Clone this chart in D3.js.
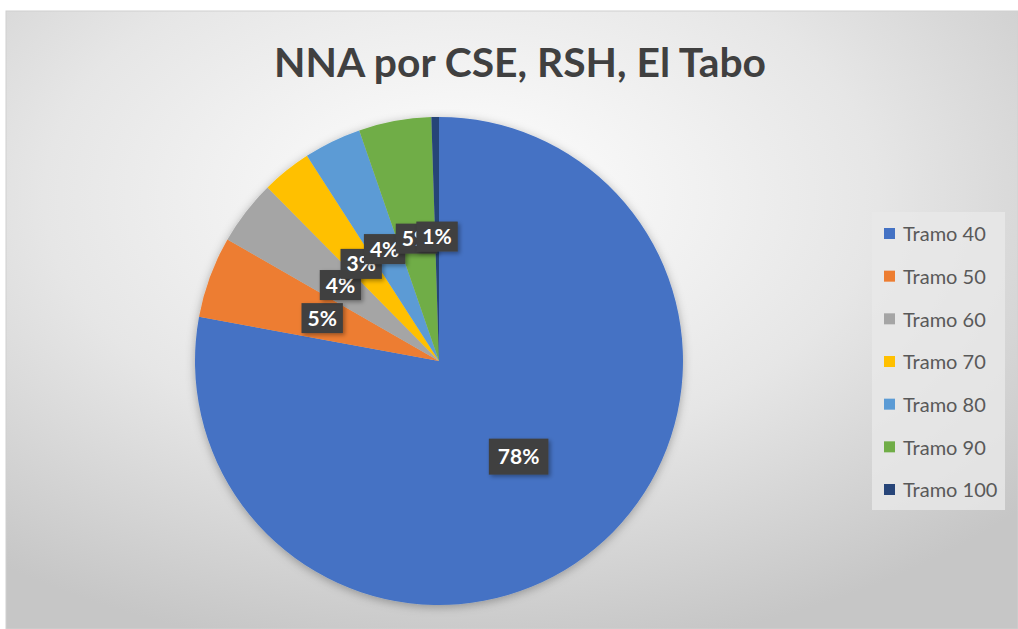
<!DOCTYPE html>
<html>
<head>
<meta charset="utf-8">
<script src="https://cdn.jsdelivr.net/npm/d3@7"></script>
<style>
  body { margin: 0; background: #ffffff; }
  svg { display: block; }
</style>
</head>
<body>
<svg id="chart" width="1018" height="629"></svg>
<script>
// data (shares of NNA by tramo)
var categories = ["Tramo 40", "Tramo 50", "Tramo 60", "Tramo 70", "Tramo 80", "Tramo 90", "Tramo 100"];
var values = [77.9, 5.4, 4.3, 3.3, 3.8, 4.8, 0.5];
var labels = ["78%", "5%", "4%", "3%", "4%", "5%", "1%"];
var colors = ["#4472C4", "#ED7D31", "#A5A5A5", "#FFC000", "#5B9BD5", "#70AD47", "#264478"];

var width = 1018;
var height = 629;

var svg = d3.select("#chart");
var defs = svg.append("defs");

// background gradient of the chart area
var grad = defs.append("radialGradient")
    .attr("id", "bg")
    .attr("cx", "45%").attr("cy", "30%").attr("r", "75%");
grad.append("stop").attr("offset", "0%").attr("stop-color", "#ffffff");
grad.append("stop").attr("offset", "55%").attr("stop-color", "#e6e6e6");
grad.append("stop").attr("offset", "100%").attr("stop-color", "#c6c6c6");

var pieShadow = defs.append("filter").attr("id", "pieShadow")
    .attr("x", "-10%").attr("y", "-10%").attr("width", "120%").attr("height", "120%");
pieShadow.append("feDropShadow")
    .attr("dx", 0).attr("dy", 2).attr("stdDeviation", 5)
    .attr("flood-color", "#000").attr("flood-opacity", 0.3);

var boxShadow = defs.append("filter").attr("id", "boxShadow")
    .attr("x", "-30%").attr("y", "-30%").attr("width", "160%").attr("height", "160%");
boxShadow.append("feDropShadow")
    .attr("dx", 2).attr("dy", 2).attr("stdDeviation", 2)
    .attr("flood-color", "#000").attr("flood-opacity", 0.35);

svg.append("rect")
    .attr("x", 6).attr("y", 11)
    .attr("width", width - 6).attr("height", height - 11)
    .attr("fill", "url(#bg)")
    .attr("stroke", "#d0d0d0").attr("stroke-width", 1);

// title
svg.append("text")
    .attr("x", 520).attr("y", 77)
    .attr("text-anchor", "middle")
    .style("font-family", "Lato, 'Open Sans', sans-serif")
    .style("font-size", "41px")
    .style("font-weight", "bold")
    .style("fill", "#404040")
    .attr("textLength", 492).attr("lengthAdjust", "spacingAndGlyphs")
    .text("NNA por CSE, RSH, El Tabo");

// pie
var cx = 439, cy = 361, radius = 244;

var pie = d3.pie().sort(null).value(function(d){ return d; });
var arcs = pie(values);

var arc = d3.arc().innerRadius(0).outerRadius(radius);
var labelArc = d3.arc().innerRadius(radius * 0.51).outerRadius(radius * 0.51);

var g = svg.append("g").attr("transform", "translate(" + cx + "," + cy + ")");

g.append("g")
    .attr("filter", "url(#pieShadow)")
    .selectAll("path")
    .data(arcs)
    .enter().append("path")
    .attr("d", arc)
    .attr("fill", function(d, i){ return colors[i]; });

// data labels: dark boxes, drawn in order so later ones sit on top
arcs.forEach(function(d, i){
    var c = labelArc.centroid(d);
    var lg = g.append("g").attr("transform", "translate(" + c[0] + "," + c[1] + ")");
    var box = lg.append("rect").attr("fill", "#404040").attr("filter", "url(#boxShadow)");
    var t = lg.append("text")
        .attr("text-anchor", "middle")
        .attr("dy", "0.36em")
        .style("font-family", "Lato, 'Open Sans', sans-serif")
        .style("font-size", "21px")
        .style("font-weight", "bold")
        .style("fill", "#ffffff")
        .text(labels[i]);
    var w = t.node().getComputedTextLength() + (i === 0 ? 18 : 12);
    var h = i === 0 ? 36 : 30;
    box.attr("x", -w / 2).attr("y", -h / 2).attr("width", w).attr("height", h);
});

// legend
var legend = svg.append("g");
legend.append("rect")
    .attr("x", 872).attr("y", 212)
    .attr("width", 133).attr("height", 298)
    .attr("fill", "#e9e9e9").attr("opacity", 0.8);

var rowY = d3.scalePoint().domain(categories).range([234, 490]);

var items = legend.selectAll("g.item")
    .data(categories)
    .enter().append("g")
    .attr("class", "item")
    .attr("transform", function(d){ return "translate(884," + rowY(d) + ")"; });

items.append("rect")
    .attr("x", 0).attr("y", -6)
    .attr("width", 11).attr("height", 11)
    .attr("fill", function(d, i){ return colors[i]; });

items.append("text")
    .attr("x", 19).attr("dy", "0.36em")
    .style("font-family", "Lato, 'Open Sans', sans-serif")
    .style("font-size", "20px")
    .style("fill", "#595959")
    .text(function(d){ return d; });
</script>
</body>
</html>
